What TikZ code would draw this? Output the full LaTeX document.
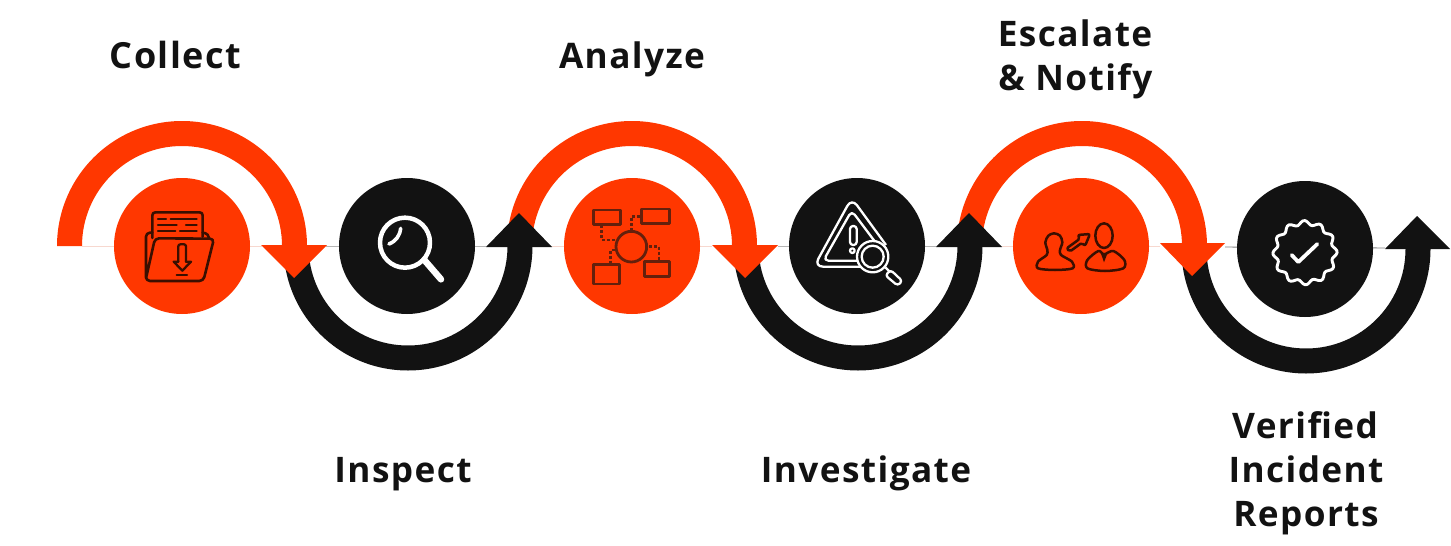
\documentclass[tikz,border=0pt]{standalone}
\usepackage{fontspec}
\setmainfont{Open Sans}
\definecolor{fire}{HTML}{FF3700}
\definecolor{ink}{HTML}{121212}
\definecolor{pinkline}{HTML}{F7D8CF}
\definecolor{greyline}{HTML}{B5B5B5}
\definecolor{iconA}{HTML}{3A0F00}
\definecolor{iconB}{HTML}{64200C}
\newcommand{\ringup}[3]{\fill[#3] (#1-125,#2) arc[start angle=180,end angle=360,radius=125] -- (#1+100,#2) arc[start angle=360,end angle=180,radius=100] -- cycle;}
\newcommand{\ringdown}[3]{\fill[#3] (#1-124.5,#2) arc[start angle=180,end angle=0,radius=124.5] -- (#1+99.5,#2) arc[start angle=0,end angle=180,radius=99.5] -- cycle;}
\tikzset{
  disc/.style={circle,minimum size=136pt,inner sep=0pt,fill=#1},
  label/.style={font=\fontsize{35.2}{44}\selectfont\bfseries\addfontfeatures{LetterSpace=4},text=ink,align=center,inner sep=0pt,anchor=base},
  thin link/.style={line width=0.9pt},
}
\begin{document}
\begin{tikzpicture}[x=1pt,y=1pt,yscale=-1,line join=round]
\useasboundingbox (0,0) rectangle (1451,546);
% connector hairlines
\coordinate (l0) at (82,246);
\coordinate (l1) at (262,246);
\coordinate (l2) at (326,246);
\coordinate (l3) at (486,246);
\coordinate (l4) at (552,246);
\coordinate (l5) at (712,246);
\coordinate (l6) at (778,246);
\coordinate (l7) at (936,246);
\coordinate (l8) at (1002,246);
\coordinate (l9) at (1160,246);
\coordinate (l10) at (1225,247);
\coordinate (l11) at (1385,248);
\draw[thin link,pinkline] (l0) -- (l1);
\draw[thin link,greyline] (l2) -- (l3);
\draw[thin link,pinkline] (l4) -- (l5);
\draw[thin link,greyline] (l6) -- (l7);
\draw[thin link,pinkline] (l8) -- (l9);
\draw[thin link,gray] (l10) -- (l11);
% rings
\ringdown{408}{246}{ink}
\ringdown{858}{246}{ink}
\ringdown{1306}{249}{ink}
\ringup{182}{246}{fire}
\ringup{632}{246}{fire}
\ringup{1082}{246}{fire}
% heads
\fill[fire] (261,245) -- (327,245) -- (294,278) -- cycle;
\fill[fire] (712,245) -- (778,245) -- (745,278) -- cycle;
\fill[fire] (1160,243) -- (1225,243) -- (1192,276) -- cycle;
\fill[ink] (486,247) -- (552,247) -- (519,213) -- cycle;
\fill[ink] (936,247) -- (1002,247) -- (969,213) -- cycle;
\fill[ink] (1385,249) -- (1450,249) -- (1417,216) -- cycle;
% discs
\node[disc=fire] (d1) at (182,246) {};
\node[disc=ink]  (d2) at (407,246) {};
\node[disc=fire] (d3) at (632,246) {};
\node[disc=ink]  (d4) at (857,246) {};
\node[disc=fire] (d5) at (1081,246) {};
\node[disc=ink]  (d6) at (1305,249) {};
% labels
\node[label,font=\fontsize{36}{44}\selectfont\bfseries\addfontfeatures{LetterSpace=4}] (t1) at (175.5,68) {Collect};
\node[label] (t2) at (403,482) {Inspect};
\node[label] (t3) at (632,68) {Analyze};
\node[label] (t4) at (866,482) {Investigate};
\node[label] (t5a) at (1075,46) {Escalate};
\node[label] (t5b) at (1075.5,90) {\& Notify};
\node[label] (t6a) at (1305,438) {Verified};
\node[label] (t6b) at (1306,482) {Incident};
\node[label] (t6c) at (1306,526) {Reports};
% folder icon
\begin{scope}[shift={(40,110)},scale=1/3,draw=iconA,line width=2.6pt,line cap=round]
\draw[rounded corners=3pt] (337,384) -- (337,307) -- (488,307) -- (488,380);
\draw[line width=2.3pt] (354,327)--(378,327) (392,327)--(470,327) (354,345)--(410,345) (438,345)--(470,345) (354,364)--(406,364) (420,364)--(470,364);
\draw[rounded corners=4pt] (337,368) -- (318,368) -- (318,513) -- (490,513) -- (522,386) -- (345,385) -- (318,505);
\draw[rounded corners=3pt] (488,368) -- (505,372) -- (506,385);
\draw[line width=2.3pt,rounded corners=2pt] (415,455) -- (415,403) -- (438,403) -- (438,455);
\draw[line width=2.3pt] (415,455) -- (401,455) -- (427,482) -- (453,455) -- (438,455);
\draw[line width=2.3pt] (410,495) -- (441,495);
\end{scope}
% magnifier icon
\begin{scope}[shift={(330,170)},scale=1/3,draw=white,line cap=round]
\draw[line width=4.5pt] (225,218) circle[radius=75];
\draw[line width=3.6pt] (177,222) to[bend left=30] (212,175);
\draw[line width=6.5pt] (283,270) -- (333,328);
\end{scope}
% analysis icon
\begin{scope}[shift={(585,200)},scale=1/3,draw=iconB,line width=2.8pt]
\draw (26,30) rectangle (106,74);
\draw (170,27) rectangle (253,71);
\draw (25,193) rectangle (103,252);
\draw (178,185) rectangle (254,230);
\draw (139,140) circle[radius=46];
\draw[dash pattern=on 3pt off 2pt] (50,76) -- (50,120) -- (93,120);
\draw[dash pattern=on 3pt off 2pt] (139,92) -- (139,50) -- (170,50);
\draw[dash pattern=on 3pt off 2pt] (192,140) -- (222,140) -- (222,185);
\draw[dash pattern=on 3pt off 2pt] (90,150) -- (77,150) -- (77,192);
\end{scope}
% warning icon
\begin{scope}[shift={(780,170)},scale=1/3,draw=white,line width=2.3pt]
\draw[rounded corners=9pt] (240,290) -- (102,290) -- (215,84) -- (318,225);
\draw[rounded corners=5pt] (235,272) -- (130,272) -- (215,122) -- (285,215);
\draw[rounded corners=3pt] (210,168) rectangle (230,225);
\draw (217,242) circle[radius=7];
\filldraw[fill=ink] (278,260) circle[radius=47];
\draw (278,260) circle[radius=33];
\draw (316,292) -- (330,306);
\draw[rounded corners=3pt] (316,316) -- (332,300) -- (367,333) -- (353,347) -- cycle;
\end{scope}
% escalation icon
\begin{scope}[shift={(1030,215)},scale=1/3,draw=iconA,line width=2.5pt]
\draw plot[smooth cycle,tension=0.5] coordinates {(24,160) (24,140) (50,120) (52,105) (46,82) (55,62) (72,55) (90,62) (97,82) (90,105) (93,120) (126,140) (128,160) (75,165)};
\draw (222,62) ellipse[x radius=26,y radius=37];
\draw plot[smooth cycle,tension=0.5] coordinates {(172,160) (172,135) (205,108) (222,118) (250,108) (283,135) (280,160) (225,168)};
\fill[iconA] (213,116) -- (232,116) -- (222,142) -- cycle;
\draw[rounded corners=2pt] (110,100) -- (119,110) -- (156,83) -- (165,93) -- (180,57) -- (143,60) -- (150,71) -- cycle;
\end{scope}
% badge icon
\begin{scope}[shift={(1160,170)},scale=1/3,draw=white,line cap=round]
\draw[line width=2.9pt] plot[domain=0:360,samples=97,smooth cycle] ({435+(90+6.5*cos(12*\x+15))*cos(\x)},{248+(90+6.5*cos(12*\x+15))*sin(\x)});
\draw[line width=3.8pt] (395,255) -- (415,276) -- (472,222);
\end{scope}
\end{tikzpicture}
\end{document}
